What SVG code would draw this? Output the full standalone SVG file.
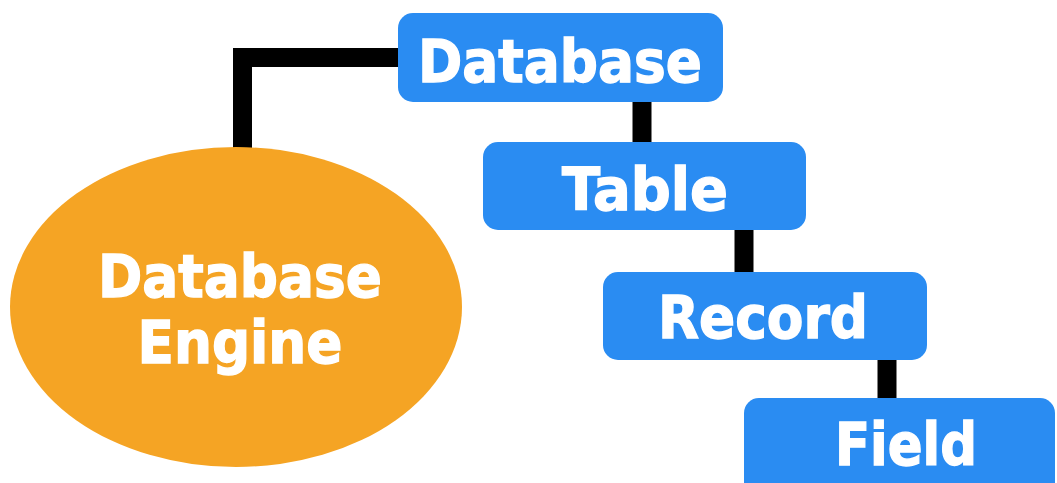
<svg xmlns="http://www.w3.org/2000/svg" width="1057" height="483" viewBox="0 0 1057 483">
<style>
.box{fill:#2A8CF2;}
.eng{fill:#F5A424;}
.lbl{font-family:"DejaVu Sans","Liberation Sans",sans-serif;font-weight:bold;font-size:59px;fill:#FFFFFF;stroke:#FFFFFF;stroke-width:1.4;text-anchor:middle;}
.wire{fill:none;stroke:#000000;stroke-width:19;}
</style>
<rect width="1057" height="483" fill="#FFFFFF"/>
<g id="connectors">
<path class="wire" d="M400 57.5 H242.5 V150"/>
<path class="wire" d="M642 100 V144"/>
<path class="wire" d="M744 228 V274"/>
<path class="wire" d="M887 358 V400"/>
</g>
<g id="node-engine">
<ellipse class="eng" cx="236" cy="307" rx="226" ry="160"/>
<text class="lbl" x="240" y="297" textLength="284" lengthAdjust="spacingAndGlyphs">Database</text>
<text class="lbl" x="240" y="363" textLength="205" lengthAdjust="spacingAndGlyphs">Engine</text>
</g>
<g id="node-database">
<rect class="box" x="398" y="13" width="325" height="89" rx="15"/>
<text class="lbl" x="560" y="82" textLength="284" lengthAdjust="spacingAndGlyphs">Database</text>
</g>
<g id="node-table">
<rect class="box" x="483" y="142" width="323" height="88" rx="15"/>
<text class="lbl" x="645" y="210" textLength="166" lengthAdjust="spacingAndGlyphs">Table</text>
</g>
<g id="node-record">
<rect class="box" x="603" y="272" width="324" height="88" rx="15"/>
<text class="lbl" x="763" y="338" textLength="210" lengthAdjust="spacingAndGlyphs">Record</text>
</g>
<g id="node-field">
<rect class="box" x="744" y="398" width="311" height="100" rx="15"/>
<text class="lbl" x="906" y="465" textLength="142" lengthAdjust="spacingAndGlyphs">Field</text>
</g>
</svg>
